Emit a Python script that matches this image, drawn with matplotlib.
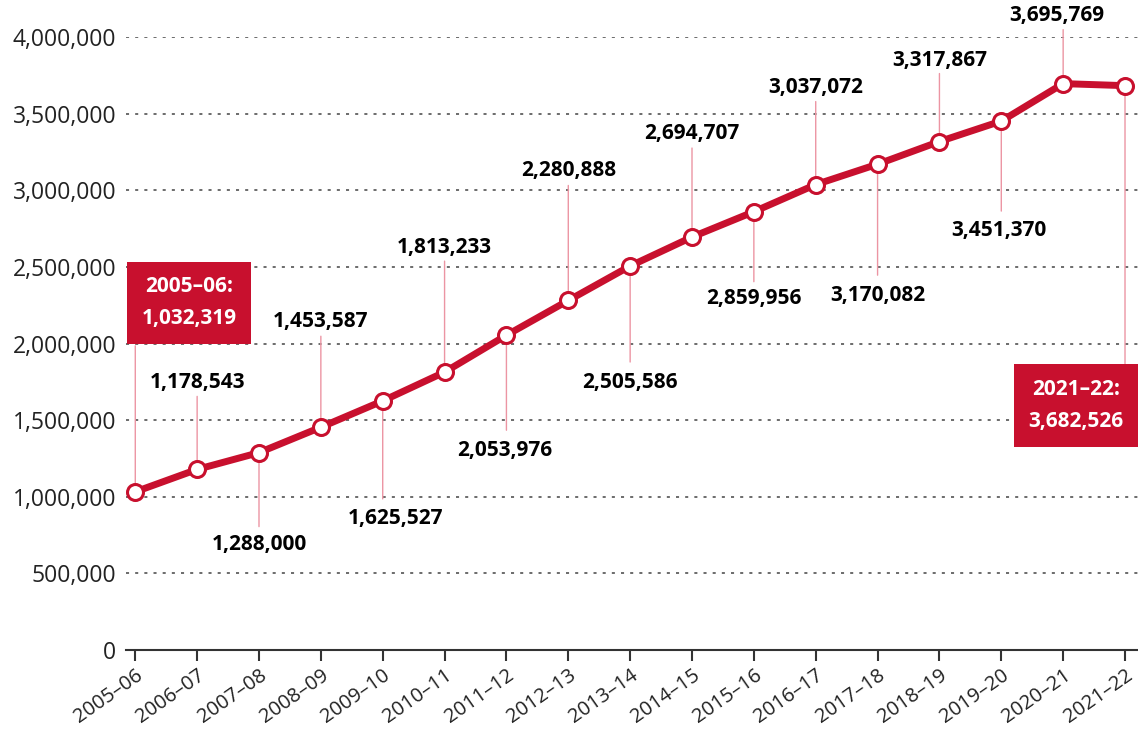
import matplotlib
matplotlib.use("Agg")
import matplotlib.pyplot as plt
from matplotlib.ticker import FuncFormatter

years = ["2005–06", "2006–07", "2007–08", "2008–09", "2009–10", "2010–11",
         "2011–12", "2012–13", "2013–14", "2014–15", "2015–16", "2016–17",
         "2017–18", "2018–19", "2019–20", "2020–21", "2021–22"]
values = [1032319, 1178543, 1288000, 1453587, 1625527, 1813233, 2053976,
          2280888, 2505586, 2694707, 2859956, 3037072, 3170082, 3317867,
          3451370, 3695769, 3682526]
y_ticks = [0, 500000, 1000000, 1500000, 2000000, 2500000, 3000000, 3500000, 4000000]

# label placement in pixels from each point: (dx, dy of label centre, dy of leader end)
label_offsets = [
    (54, 189, 146), (0, 87, 73), (0, -92, -74), (0, 106, 91), (13, -118, -98),
    (0, 125, 111), (-2, -115, -95), (0, 130, 115), (0, -116, -96), (0, 104, 89),
    (0, -87, -70), (0, 97, 83), (0, -131, -111), (0, 81, 68), (-2, -109, -90),
    (-6, 68, 54), (-49, -320, -278),
]

RED = "#c8102e"
LEADER = "#ec95a3"
DARK = "#222222"

plt.rcParams["font.family"] = ["Open Sans", "DejaVu Sans"]

fig = plt.figure(figsize=(11.38, 7.29), dpi=100)
ax = fig.add_axes([126 / 1138, 79 / 729, 1012 / 1138, 613 / 729])

x = list(range(len(years)))

# dotted gridlines
for t in y_ticks[1:]:
    ax.axhline(t, color="#444444", lw=1.1, ls=(0, (2, 4)), zorder=0)

ax.plot(x, values, color=RED, lw=5, marker="o", ms=11.5, mfc="white",
        mec=RED, mew=2.2, zorder=5, solid_capstyle="round")

for i, (v, (dx, dy, lead)) in enumerate(zip(values, label_offsets)):
    ax.annotate("", xy=(i, v), xytext=(0, lead), textcoords="offset pixels",
                arrowprops=dict(arrowstyle="-", color=LEADER, lw=1,
                                shrinkA=0, shrinkB=0),
                zorder=2, annotation_clip=False)
    txt = f"{v:,}"
    if i == 0 or i == len(values) - 1:
        ax.annotate(f"{years[i]}:\n{txt}", xy=(i, v), xytext=(dx, dy),
                    textcoords="offset pixels", ha="center", va="center",
                    fontsize=15, fontweight="bold", color="white",
                    linespacing=1.7, annotation_clip=False, zorder=6,
                    bbox=dict(boxstyle="square,pad=0.7", fc=RED, ec="none"))
    else:
        ax.annotate(txt, xy=(i, v), xytext=(dx, dy),
                    textcoords="offset pixels", ha="center", va="center",
                    fontsize=15, fontweight="bold", color="black",
                    annotation_clip=False, zorder=6)

ax.set_xlim(-0.15, 16.21)
ax.set_ylim(0, 4000000)
ax.set_yticks(y_ticks)
ax.yaxis.set_major_formatter(FuncFormatter(lambda v, p: f"{int(v):,}"))
ax.set_xticks(x)
ax.set_xticklabels(years, rotation=35, ha="right", rotation_mode="anchor")

for s in ["top", "right", "left"]:
    ax.spines[s].set_visible(False)
ax.spines["bottom"].set_color("#333333")
ax.spines["bottom"].set_linewidth(1.5)
ax.tick_params(axis="y", length=0, pad=7, labelsize=16.5, colors=DARK)
ax.tick_params(axis="x", length=8, width=1.5, color="#333333", pad=3,
               labelsize=14.5, colors=DARK)

fig.savefig("out.png", dpi=100)
